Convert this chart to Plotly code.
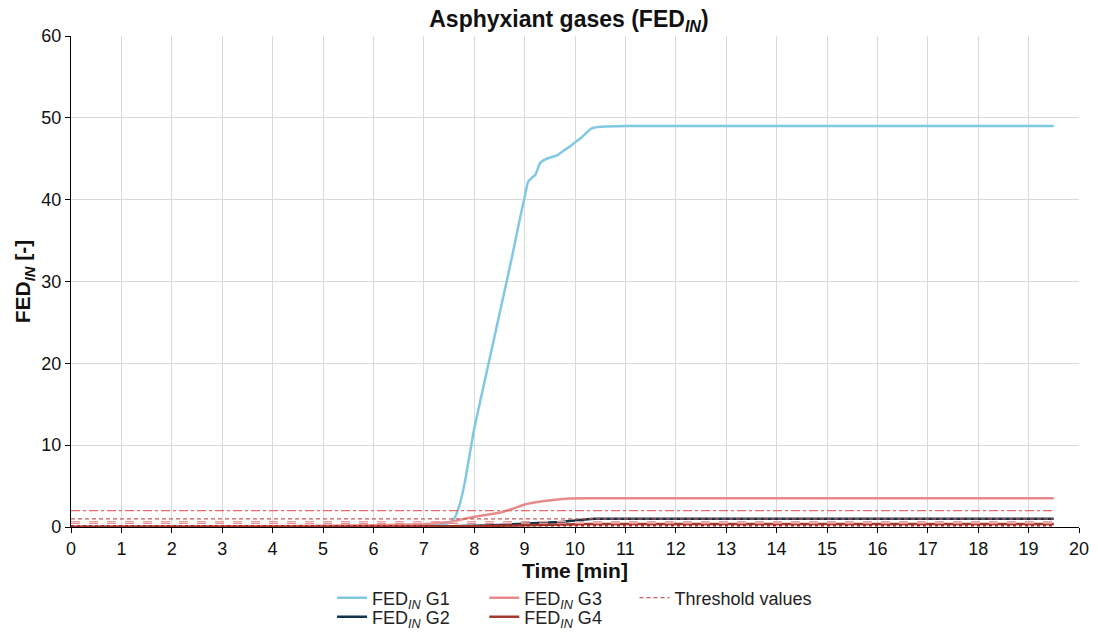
import plotly.graph_objects as go

# ---- data ----
t_g1 = [0, 5, 7, 7.4, 7.5, 7.6, 7.7, 7.8, 7.9, 8.0, 8.25, 8.5, 8.75, 8.9, 9.0, 9.07, 9.15,
        9.21, 9.31, 9.44, 9.64, 9.8, 9.9, 10.0, 10.13, 10.25, 10.33, 10.5, 11.0, 12, 19.5]
y_g1 = [0, 0.05, 0.2, 0.35, 0.5, 1.0, 2.5, 5.0, 8.5, 12.0, 19.0, 26.0, 33.0, 37.5, 40.3, 42.2, 42.7,
        43.0, 44.5, 45.0, 45.4, 46.1, 46.5, 47.0, 47.6, 48.3, 48.7, 48.9, 49.0, 49.0, 49.0]

t_g3 = [0, 3, 6, 7, 7.3, 7.55, 8.0, 8.5, 8.8, 9.0, 9.2, 9.44, 9.7, 9.9, 10.2, 19.5]
y_g3 = [0, 0.05, 0.2, 0.35, 0.5, 0.65, 1.25, 1.75, 2.3, 2.75, 3.0, 3.2, 3.38, 3.48, 3.5, 3.5]

t_g2 = [0, 7, 7.5, 8, 8.5, 9, 9.5, 9.8, 10.0, 10.2, 10.4, 10.6, 19.5]
y_g2 = [0, 0.05, 0.1, 0.15, 0.25, 0.4, 0.55, 0.65, 0.8, 0.92, 1.0, 1.02, 1.02]

t_g4 = [0, 7, 8, 9, 9.5, 10, 10.5, 19.5]
y_g4 = [0, 0.03, 0.1, 0.2, 0.28, 0.35, 0.38, 0.38]

threshold_t = [0, 19.5]
threshold_values = [1.0, 2.0, 0.65, 0.45, 0.15]
threshold_colors = ["#c95a5a", "#e06a6a", "#eaa0a0", "#e59090", "#b22222"]
threshold_dashes = ["4px,3px", "dashdot", "dash", "dash", "dot"]

x_ticks = list(range(0, 21))
y_ticks = list(range(0, 61, 10))

FONT = "Liberation Sans, Arial, sans-serif"

fig = go.Figure()

fig.add_trace(go.Scatter(x=t_g1, y=y_g1, mode="lines", name="FED<sub><i>IN</i></sub> G1",
                         line=dict(color="#80c9e2", width=2.5, shape="spline", smoothing=0.4),
                         legend="legend"))
fig.add_trace(go.Scatter(x=t_g2, y=y_g2, mode="lines", name="FED<sub><i>IN</i></sub> G2",
                         line=dict(color="#12334a", width=2.5, shape="spline", smoothing=0.4),
                         legend="legend4"))
fig.add_trace(go.Scatter(x=t_g3, y=y_g3, mode="lines", name="FED<sub><i>IN</i></sub> G3",
                         line=dict(color="#e68a8c", width=2.5, shape="spline", smoothing=0.4),
                         legend="legend2"))
fig.add_trace(go.Scatter(x=t_g4, y=y_g4, mode="lines", name="FED<sub><i>IN</i></sub> G4",
                         line=dict(color="#a23b2e", width=2.5, shape="spline", smoothing=0.4),
                         legend="legend5"))

for i, (v, c, d) in enumerate(zip(threshold_values, threshold_colors, threshold_dashes)):
    fig.add_trace(go.Scatter(x=threshold_t, y=[v, v], mode="lines", name="Threshold values",
                             line=dict(color=c, width=1.3, dash=d),
                             showlegend=(i == 0), legend="legend3"))

legend_common = dict(orientation="v", yanchor="middle", xanchor="left",
                     font=dict(family=FONT, size=18, color="#222"),
                     bgcolor="rgba(0,0,0,0)", tracegroupgap=0)
row1, row2 = -0.1446, -0.1833

fig.update_layout(
    width=1098, height=637,
    paper_bgcolor="white", plot_bgcolor="white",
    margin=dict(l=71, r=19, t=36, b=110, autoexpand=False),
    font=dict(family=FONT, size=18, color="#111"),
    title=dict(text="<b>Asphyxiant gases (FED<sub><i>IN</i></sub>)</b>", x=0.494, xref="paper",
               xanchor="center", y=0.97, yanchor="middle",
               font=dict(family=FONT, size=23, color="#111")),
    legend=dict(x=0.259, y=row1, **legend_common),
    legend2=dict(x=0.410, y=row1, **legend_common),
    legend3=dict(x=0.559, y=row1, **legend_common),
    legend4=dict(x=0.259, y=row2, **legend_common),
    legend5=dict(x=0.410, y=row2, **legend_common),
    showlegend=True,
)

fig.update_xaxes(range=[0, 20], tickvals=x_ticks, ticktext=[str(v) for v in x_ticks],
                 showgrid=True, gridcolor="#d9d9d9", gridwidth=1,
                 showline=True, linecolor="black", linewidth=1.2,
                 ticks="outside", ticklen=5, tickcolor="black",
                 tickfont=dict(family=FONT, size=18, color="#111"),
                 zeroline=False, automargin=False,
                 title=dict(text="<b>Time [min]</b>", standoff=4,
                            font=dict(family=FONT, size=21, color="#111")))
fig.update_yaxes(range=[0, 60], tickvals=y_ticks, ticktext=[str(v) for v in y_ticks],
                 showgrid=True, gridcolor="#d9d9d9", gridwidth=1,
                 showline=True, linecolor="black", linewidth=1.2,
                 ticks="outside", ticklen=5, tickcolor="black",
                 tickfont=dict(family=FONT, size=18, color="#111"),
                 zeroline=False, automargin=False,
                 title=dict(text="<b>FED<sub><i>IN</i></sub> [-]</b>", standoff=4,
                            font=dict(family=FONT, size=21, color="#111")))

fig.write_html("out.html", config={"displayModeBar": False},
               post_script="document.body.style.margin='0';document.body.style.overflow='hidden';")
